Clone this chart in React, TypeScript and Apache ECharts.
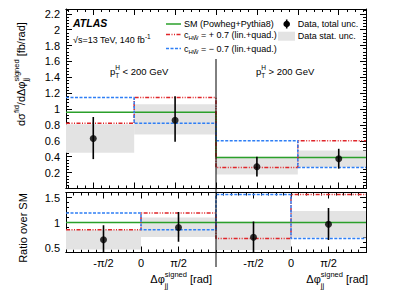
import React, { useEffect, useRef } from 'react';
import * as echarts from 'echarts';

const FONT = '"Liberation Sans", Arial, Helvetica, sans-serif';

// ---------- main panel (dsigma/dphi) ----------
const mainEdges = [0, 1, 2.2, 3.4, 4.4];
const mainPointX = [0.4, 1.6, 2.8, 4.0];
const mainMajorTicks = [0.4, 1.0, 1.6, 2.2, 2.8, 3.4, 4.0];
const smMain = [0.96, 0.96, 0.39, 0.39];
const cPlusMain = [0.82, 1.145, 0.265, 0.6];
const cMinusMain = [1.145, 0.82, 0.6, 0.265];
const dataMain = [0.63, 0.86, 0.275, 0.375];
const totUpMain = [0.9, 1.16, 0.4, 0.5];
const totDownMain = [0.37, 0.59, 0.15, 0.25];
const statUpMain = [0.81, 1.06, 0.4, 0.48];
const statDownMain = [0.45, 0.68, 0.175, 0.27];

// ---------- ratio panel ----------
const ratioEdges = [0, 1, 2, 3, 4];
const ratioPointX = [0.5, 1.5, 2.5, 3.5];
const ratioMajorTicks = [0.5, 1, 1.5, 2, 2.5, 3, 3.5];
const ratioLabelValues = [0.5, 1, 1.5, 2.5, 3, 3.5];
const ratioLabelTexts = ['-π/2', '0', 'π/2', '-π/2', '0', 'π/2'];
const ratioYLabels = [0.5, 1, 1.5];
const smRatio = [1, 1, 1, 1];
const cPlusRatio = [0.853, 1.19, 0.68, 1.56];
const cMinusRatio = [1.19, 0.853, 1.56, 0.68];
const dataRatio = [0.655, 0.9, 0.705, 0.965];
const totUpRatio = [0.945, 1.21, 1.02, 1.29];
const totDownRatio = [0.39, 0.615, 0.39, 0.65];
const statUpRatio = [0.855, 1.1, 1.02, 1.23];
const statDownRatio = [0.46, 0.71, 0.45, 0.7];

// ---------- layout / style ----------
const GL = 66, GW = 300, MT = 9, MH = 179.5, RT = 192.5, RH = 60;
const GREEN = '#2ba02b';
const RED = '#e0262a';
const BLUE = '#2f7ff5';
const GRAY = '#e3e3e3';
const RED_DASH = [4, 1.5, 1, 1.5, 1, 1.5];
const BLUE_DASH = [3, 1.5];

let _ctx: CanvasRenderingContext2D | null = null;
function tw(t: string, size: number, weight = 'normal', style = 'normal') {
  if (!_ctx) _ctx = document.createElement('canvas').getContext('2d');
  _ctx!.font = `${style} ${weight} ${size}px ${FONT}`;
  return _ctx!.measureText(t).width;
}
type Seg = { t: string; s: number; dy?: number; stack?: boolean; w?: string; it?: boolean; pre?: number };
function compose(segs: Seg[], align: 'left' | 'right' | 'center' = 'left') {
  let x = 0, lastX = 0, lastW = 0;
  const placed: { x: number; g: Seg }[] = [];
  for (const g of segs) {
    const w = tw(g.t, g.s, g.w || 'normal', g.it ? 'italic' : 'normal');
    if (g.stack) {
      placed.push({ x: lastX, g });
      const adv = Math.max(lastW, w);
      x = lastX + adv;
      lastW = adv;
    } else {
      x += g.pre || 0;
      placed.push({ x, g });
      lastX = x;
      lastW = w;
      x += w;
    }
  }
  const off = align === 'right' ? -x : align === 'center' ? -x / 2 : 0;
  return placed.map((p) => ({
    type: 'text',
    silent: true,
    x: p.x + off,
    y: p.g.dy || 0,
    style: {
      text: p.g.t, fontSize: p.g.s, fontFamily: FONT, fontWeight: p.g.w || 'normal',
      fontStyle: p.g.it ? 'italic' : 'normal', fill: '#000',
      align: 'left', verticalAlign: 'middle', textAlign: 'left', textVerticalAlign: 'middle',
    },
  }));
}
const grp = (x: number, y: number, children: any[], rotation = 0) => ({ type: 'group', x, y, rotation, children });

const stepData = (edges: number[], vals: number[]) =>
  vals.map((v, i) => [edges[i], v]).concat([[edges[edges.length - 1], vals[vals.length - 1]]]);
const rectData = (edges: number[], lo: number[], hi: number[]) => lo.map((l, i) => [edges[i], edges[i + 1], l, hi[i]]);
const errData = (xs: number[], lo: number[], hi: number[]) => xs.map((x, i) => [x, lo[i], hi[i]]);

function minorList(start: number, step: number, min: number, max: number) {
  const out: number[] = [];
  for (let k = -50; k < 100; k++) {
    const v = Math.round((start + step * k) * 1e6) / 1e6;
    if (v > min && v < max) out.push(v);
  }
  return out;
}
const mainMinorTicks = minorList(0.4, 0.12, 0, 4.4);

const line = { show: true, onZero: false, lineStyle: { color: '#000', width: 1 } };
const noSplit = { splitLine: { show: false }, minorSplitLine: { show: false } };

function xAx(gridIndex: number, position: string, min: number, max: number, tick: any, label: any = { show: false }) {
  return { type: 'value', gridIndex, position, min, max, axisLine: line, axisTick: tick, axisLabel: label, ...noSplit };
}

function panelSeries(xi: number, yi: number, edges: number[], px: number[], sm: number[], cp: number[], cm: number[],
  data: number[], tu: number[], td: number[], su: number[], sd: number[]) {
  return [
    {
      type: 'custom', xAxisIndex: xi, yAxisIndex: yi, z: 1,
      data: rectData(edges, sd, su), encode: { x: [0, 1], y: [2, 3] },
      renderItem: (_p: any, api: any) => {
        const a = api.coord([api.value(0), api.value(3)]);
        const b = api.coord([api.value(1), api.value(2)]);
        return { type: 'rect', shape: { x: a[0], y: a[1], width: b[0] - a[0], height: b[1] - a[1] }, style: { fill: GRAY } };
      },
    },
    {
      type: 'line', xAxisIndex: xi, yAxisIndex: yi, z: 3, step: 'end', symbol: 'none',
      data: stepData(edges, sm), lineStyle: { color: GREEN, width: 1.5 },
    },
    {
      type: 'line', xAxisIndex: xi, yAxisIndex: yi, z: 4, step: 'end', symbol: 'none',
      data: stepData(edges, cp), lineStyle: { color: RED, width: 1.5, type: RED_DASH },
    },
    {
      type: 'line', xAxisIndex: xi, yAxisIndex: yi, z: 4, step: 'end', symbol: 'none',
      data: stepData(edges, cm), lineStyle: { color: BLUE, width: 1.5, type: BLUE_DASH },
    },
    {
      type: 'custom', xAxisIndex: xi, yAxisIndex: yi, z: 5,
      data: errData(px, td, tu), encode: { x: 0, y: [1, 2] },
      renderItem: (_p: any, api: any) => {
        const a = api.coord([api.value(0), api.value(1)]);
        const b = api.coord([api.value(0), api.value(2)]);
        return { type: 'line', shape: { x1: a[0], y1: a[1], x2: b[0], y2: b[1] }, style: { stroke: '#000', lineWidth: 1.6 } };
      },
    },
    {
      type: 'scatter', xAxisIndex: xi, yAxisIndex: yi, z: 6, symbol: 'circle', symbolSize: 7,
      data: px.map((x, i) => [x, data[i]]), itemStyle: { color: '#000' },
    },
  ];
}

function buildOption() {
  const tickMajor = (vals: number[]) => ({ show: true, inside: true, length: 6, customValues: vals, lineStyle: { color: '#000' } });
  const tickMinor = (vals: number[] | null) =>
    vals ? { show: true, inside: true, length: 3, customValues: vals, lineStyle: { color: '#000' } }
      : { show: true, inside: true, length: 3, lineStyle: { color: '#000' } };

  const xAxis = [
    xAx(0, 'bottom', 0, 4.4, tickMajor(mainMajorTicks)),
    xAx(0, 'bottom', 0, 4.4, tickMinor(mainMinorTicks)),
    xAx(0, 'top', 0, 4.4, tickMajor(mainMajorTicks)),
    xAx(0, 'top', 0, 4.4, tickMinor(mainMinorTicks)),
    xAx(1, 'bottom', 0, 4, tickMajor(ratioMajorTicks), {
      show: true, customValues: ratioLabelValues, fontSize: 11, fontFamily: FONT, color: '#000', margin: 5,
      formatter: (v: number) => {
        const i = ratioLabelValues.findIndex((r) => Math.abs(r - v) < 1e-6);
        return i >= 0 ? ratioLabelTexts[i] : '';
      },
    }),
    { ...xAx(1, 'bottom', 0, 4, tickMinor(null)), interval: 0.1 },
    xAx(1, 'top', 0, 4, tickMajor(ratioMajorTicks)),
    { ...xAx(1, 'top', 0, 4, tickMinor(null)), interval: 0.1 },
  ];

  const mainY = (position: string, labels: boolean) => ({
    type: 'value', gridIndex: 0, position, min: 0, max: 2.26, interval: 0.2, axisLine: line,
    axisTick: { show: true, inside: true, length: 6, lineStyle: { color: '#000' } },
    minorTick: { show: true, splitNumber: 5, length: 3, lineStyle: { color: '#000' } },
    axisLabel: labels ? {
      show: true, fontSize: 11, fontFamily: FONT, color: '#000', margin: 6,
      formatter: (v: number) => (v < 0.01 || v > 2.21 ? '' : String(Math.round(v * 10) / 10)),
    } : { show: false },
    ...noSplit,
  });
  const ratioYMajor = (position: string, labels: boolean) => ({
    type: 'value', gridIndex: 1, position, min: 0.4, max: 1.6, axisLine: line,
    axisTick: tickMajor(ratioYLabels),
    axisLabel: labels ? { show: true, customValues: ratioYLabels, fontSize: 11, fontFamily: FONT, color: '#000', margin: 6 } : { show: false },
    ...noSplit,
  });
  const ratioYMinor = (position: string) => ({
    type: 'value', gridIndex: 1, position, min: 0.4, max: 1.6, interval: 0.1, axisLine: line,
    axisTick: tickMinor(null), axisLabel: { show: false }, ...noSplit,
  });
  const yAxis = [mainY('left', true), mainY('right', false), ratioYMajor('left', true), ratioYMinor('left'), ratioYMajor('right', false), ratioYMinor('right')];

  const series = [
    ...panelSeries(0, 0, mainEdges, mainPointX, smMain, cPlusMain, cMinusMain, dataMain, totUpMain, totDownMain, statUpMain, statDownMain),
    ...panelSeries(4, 2, ratioEdges, ratioPointX, smRatio, cPlusRatio, cMinusRatio, dataRatio, totUpRatio, totDownRatio, statUpRatio, statDownRatio),
  ];

  const S = 11, s = 7.5;
  const divX = GL + GW / 2;
  const legY = [24, 34.5, 48.5];
  const elements: any[] = [
    // divider between the two pT regions
    { type: 'line', silent: true, shape: { x1: divX, y1: 59, x2: divX, y2: 267 }, style: { stroke: '#000', lineWidth: 1 }, z: 10 },
    // y-axis title main
    grp(21, 126, compose([
      { t: 'dσ', s: S }, { t: 'fid', s, dy: -4.5 }, { t: '/dΔφ', s: S },
      { t: 'signed', s, dy: -4.5 }, { t: 'jj', s, dy: 4.5, stack: true },
      { t: '[fb/rad]', s: S, pre: tw(' ', S) },
    ]), Math.PI / 2),
    // ratio title
    grp(23, 228, compose([{ t: 'Ratio over SM', s: S }], 'center'), Math.PI / 2),
    // x titles
    grp(212, 279, compose([
      { t: 'Δφ', s: S }, { t: 'signed', s, dy: -4.5 }, { t: 'jj', s, dy: 6, stack: true },
      { t: '[rad]', s: S, pre: tw(' ', S) },
    ], 'right')),
    grp(368, 279, compose([
      { t: 'Δφ', s: S }, { t: 'signed', s, dy: -4.5 }, { t: 'jj', s, dy: 6, stack: true },
      { t: '[rad]', s: S, pre: tw(' ', S) },
    ], 'right')),
    // ATLAS label
    grp(73, 23, compose([{ t: 'ATLAS', s: 10.5, w: 'bold', it: true }])),
    grp(73, 40, compose([{ t: '√s=13 TeV, 140 fb', s: 9 }, { t: '-1', s: 6.5, dy: -4 }])),
    // region labels
    grp(110, 71, compose([{ t: 'p', s: 9.5 }, { t: 'H', s: 6.5, dy: -4 }, { t: 'T', s: 6.5, dy: 4, stack: true }, { t: '< 200 GeV', s: 9.5, pre: tw(' ', 9.5) }])),
    grp(256, 71, compose([{ t: 'p', s: 9.5 }, { t: 'H', s: 6.5, dy: -4 }, { t: 'T', s: 6.5, dy: 4, stack: true }, { t: '> 200 GeV', s: 9.5, pre: tw(' ', 9.5) }])),
    // legend
    { type: 'line', silent: true, shape: { x1: 166, y1: legY[0], x2: 181, y2: legY[0] }, style: { stroke: GREEN, lineWidth: 1.5 } },
    grp(184, legY[0], compose([{ t: 'SM (Powheg+Pythia8)', s: 9 }])),
    { type: 'line', silent: true, shape: { x1: 166, y1: legY[1], x2: 181, y2: legY[1] }, style: { stroke: RED, lineWidth: 1.5, lineDash: RED_DASH } },
    grp(184, legY[1], compose([{ t: 'c', s: 9 }, { t: 'HW\u0303', s: 6, dy: 3.5 }, { t: '= + 0.7 (lin.+quad.)', s: 9, pre: tw(' ', 9) }])),
    { type: 'line', silent: true, shape: { x1: 166, y1: legY[2], x2: 181, y2: legY[2] }, style: { stroke: BLUE, lineWidth: 1.5, lineDash: BLUE_DASH } },
    grp(184, legY[2], compose([{ t: 'c', s: 9 }, { t: 'HW\u0303', s: 6, dy: 3.5 }, { t: '= − 0.7 (lin.+quad.)', s: 9, pre: tw(' ', 9) }])),
    { type: 'line', silent: true, shape: { x1: 286.7, y1: 19.5, x2: 286.7, y2: 28.5 }, style: { stroke: '#000', lineWidth: 1.6 } },
    { type: 'circle', silent: true, shape: { cx: 286.7, cy: 24, r: 3.3 }, style: { fill: '#000' } },
    grp(297.7, 24, compose([{ t: 'Data, total unc.', s: 9 }])),
    { type: 'rect', silent: true, shape: { x: 278, y: 31.7, width: 17, height: 9 }, style: { fill: GRAY } },
    grp(297.7, 35.5, compose([{ t: 'Data stat. unc.', s: 9 }])),
  ];

  return {
    animation: false,
    backgroundColor: '#fff',
    grid: [
      { left: GL, top: MT, width: GW, height: MH, containLabel: false, outerBoundsMode: 'none' },
      { left: GL, top: RT, width: GW, height: RH, containLabel: false, outerBoundsMode: 'none' },
    ],
    xAxis,
    yAxis,
    series,
    graphic: { elements },
  };
}

export default function App() {
  const ref = useRef<HTMLDivElement>(null);
  useEffect(() => {
    const chart = echarts.init(ref.current!, undefined, { renderer: 'svg', width: 407, height: 294 });
    chart.setOption(buildOption() as any);
    return () => chart.dispose();
  }, []);
  return <div ref={ref} style={{ position: 'fixed', left: 0, top: 0, width: 407, height: 294, background: '#fff' }} />;
}
